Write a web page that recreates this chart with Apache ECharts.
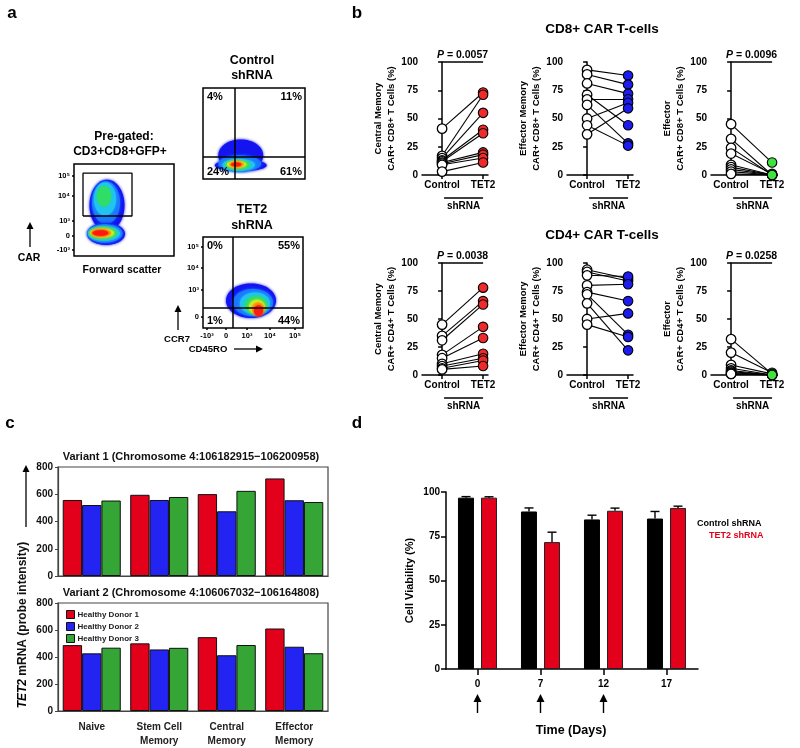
<!DOCTYPE html>
<html><head><meta charset="utf-8">
<script src="https://cdn.jsdelivr.net/npm/echarts@6/dist/echarts.min.js"></script>
<style>html,body{margin:0;padding:0;background:#fff}#c{width:800px;height:748px}</style>
</head><body><div id="c"></div>
<script>
const FONT = '"Liberation Sans", Arial, Helvetica, sans-serif';
// ================= DATA =================
// ---- Panel a (flow cytometry) ----
const preGateTickVals = [7, 22, 38, 65, 87];
const preGateTickLabels = ['-10³', '0', '10³', '10⁴', '10⁵'];
const tet2YTickVals = [12, 42, 66, 89];
const tet2YTickLabels = ['0', '10³', '10⁴', '10⁵'];
const tet2XTickVals = [4, 23, 44, 67, 92];
const tet2XTickLabels = ['-10³', '0', '10³', '10⁴', '10⁵'];
const preGate = [[9, 43.5], [58, 43.5], [58, 90], [9, 90], [9, 43.5]];
// density contour layers: [centerX, centerY, radiusX, radiusY, level]
const preGatedDensity = [
  [33, 55, 17.5, 28, 0], [32, 58, 14, 23, 1], [31, 62, 11, 18, 2], [30, 65, 7, 11, 3],
  [32, 24, 19, 12, 0], [31, 24.5, 17.5, 10, 1], [30, 24.5, 16, 8, 2], [29, 25, 14, 6.5, 3],
  [28, 25, 12, 5, 4], [27, 25, 10, 4, 5], [26.5, 25, 8, 3, 6]
];
const controlDensity = [
  [37, 26, 22, 17.5, 0], [37, 15, 25.5, 6.5, 0], [36, 17, 21, 9, 1], [35, 15.5, 16, 6.5, 2],
  [34, 15.5, 12.5, 5, 3], [33, 16, 9.5, 3.8, 4], [33, 16, 7, 3, 5], [32.5, 16, 5, 2.2, 6]
];
const tet2Density = [
  [48, 30, 25, 19, 0], [50, 28, 20, 15, 1], [52, 27, 15, 12, 2], [53, 25, 11, 10, 3],
  [54, 23, 8, 8, 4], [55, 21, 6, 7, 5], [55.5, 19, 4.5, 6, 6]
];
const controlQuadGate = [31.4, 24.2];
const tet2QuadGate = [30, 22];
const controlQuadPct = ['4%', '11%', '24%', '61%'];
const tet2QuadPct = ['0%', '55%', '1%', '44%'];

// ---- Panel b (paired plots) ----
const pairCats = ['Control', 'TET2'];
const cd8CmControl = [41, 17, 15, 13, 12, 11, 10, 9, 3];
const cd8CmTet2 = [73, 71, 55, 40, 37, 20, 18, 15, 11];
const cd8EmControl = [93, 89, 81, 71, 67, 62, 50, 44, 36];
const cd8EmTet2 = [88, 80, 72, 44, 67, 28, 64, 26, 59];
const cd8EffControl = [45, 32, 24, 19, 9, 7, 5, 3, 1];
const cd8EffTet2 = [11, 0, 0, 1, 0, 0, 0, 0, 0];
const cd4CmControl = [45, 35, 31, 18, 15, 10, 8, 6, 5];
const cd4CmTet2 = [78, 66, 63, 43, 33, 19, 15, 13, 8];
const cd4EmControl = [94, 92, 89, 80, 74, 72, 64, 50, 45];
const cd4EmTet2 = [86, 84, 88, 81, 66, 36, 22, 55, 34];
const cd4EffControl = [32, 20, 9, 6, 4, 3, 2, 1, 1];
const cd4EffTet2 = [1, 2, 1, 0, 0, 0, 0, 0, 0];
const pairYTitles = [
  'Central Memory\nCAR+ CD8+ T Cells (%)', 'Effector Memory\nCAR+ CD8+ T Cells (%)', 'Effector\nCAR+ CD8+ T Cells (%)',
  'Central Memory\nCAR+ CD4+ T Cells (%)', 'Effector Memory\nCAR+ CD4+ T Cells (%)', 'Effector\nCAR+ CD4+ T Cells (%)'
];
const pValues = ['0.0057', null, '0.0096', '0.0038', null, '0.0258'];

// ---- Panel c (bars) ----
const cellTypes = ['Naive', 'Stem Cell\nMemory', 'Central\nMemory', 'Effector\nMemory'];
const donors = ['Healthy Donor 1', 'Healthy Donor 2', 'Healthy Donor 3'];
const variant1Donor1 = [558, 596, 601, 716];
const variant1Donor2 = [521, 558, 475, 556];
const variant1Donor3 = [554, 580, 625, 543];
const variant2Donor1 = [488, 501, 547, 611];
const variant2Donor2 = [427, 456, 413, 476];
const variant2Donor3 = [469, 468, 489, 428];

// ---- Panel d (viability) ----
const days = ['0', '7', '12', '17'];
const controlViability = [96.8, 89, 84.5, 85];
const controlViabilityErr = [0.6, 2, 2.4, 4];
const tet2Viability = [96.8, 71.7, 89.4, 91];
const tet2ViabilityErr = [0.5, 5.6, 1.5, 1];
const arrowDays = ['0', '7', '12'];

// ================= STYLE =================
const flowPalette = ['#1414f0', '#1a78ff', '#20c4f0', '#2ede66', '#cdee22', '#ff9a12', '#ff1a10'];
const donorColors = ['#e2001a', '#2323f2', '#35a535'];
const RED = '#e2001a';

const chart = echarts.init(document.getElementById('c'), null, {renderer: 'canvas'});

const grids = [
  {left: 74, top: 164, width: 100, height: 92},
  {left: 203, top: 88, width: 102, height: 91},
  {left: 203, top: 237, width: 100, height: 91},
  {left: 422, top: 62, width: 66, height: 113},
  {left: 567, top: 62, width: 66, height: 113},
  {left: 711, top: 62, width: 66, height: 113},
  {left: 422, top: 263, width: 66, height: 112},
  {left: 567, top: 263, width: 66, height: 112},
  {left: 711, top: 263, width: 66, height: 112},
  {left: 58, top: 467, width: 270, height: 109},
  {left: 58, top: 603, width: 270, height: 109},
  {left: 446, top: 492, width: 252, height: 177}
];
grids.forEach((g, i) => {
  if (i <= 2) Object.assign(g, {show: true, borderColor: '#000', borderWidth: 1.5});
  else if (i === 9 || i === 10) Object.assign(g, {show: true, borderColor: '#444', borderWidth: 1.2});
});

const lbl = (extra) => Object.assign({fontFamily: FONT, fontWeight: 'bold', color: '#000', fontSize: 10}, extra || {});
function pick(vals, labels) {
  return v => { let bi = 0, bd = 1e9; vals.forEach((x, i) => { const d = Math.abs(x - v); if (d < bd) { bd = d; bi = i; } }); return labels[bi]; };
}
function flowAxis(g, vals, labels) {
  const o = {type: 'value', gridIndex: g, min: 0, max: 100, axisLine: {show: false}, splitLine: {show: false}};
  if (vals) {
    o.axisTick = {show: true, customValues: vals, length: 2, lineStyle: {color: '#000', width: 1.5}};
    o.axisLabel = lbl({show: true, customValues: vals, formatter: pick(vals, labels), fontSize: 7.5, margin: 4});
  } else {
    o.axisTick = {show: false}; o.axisLabel = {show: false};
  }
  return o;
}
const xAxes = [], yAxes = [];
xAxes.push(flowAxis(0)); yAxes.push(flowAxis(0, preGateTickVals, preGateTickLabels));
xAxes.push(flowAxis(1)); yAxes.push(flowAxis(1));
xAxes.push(flowAxis(2, tet2XTickVals, tet2XTickLabels)); yAxes.push(flowAxis(2, tet2YTickVals, tet2YTickLabels));

for (let k = 0; k < 6; k++) {
  const g = 3 + k;
  xAxes.push({type: 'value', gridIndex: g, min: -0.49, max: 1.12,
    axisLine: {show: true, onZero: false, lineStyle: {color: '#000', width: 1.5}},
    axisTick: {show: true, customValues: [0, 1], length: 4, lineStyle: {color: '#000', width: 1.5}},
    axisLabel: lbl({customValues: [0, 1], formatter: v => pairCats[Math.round(v)], fontSize: 10, margin: 5}),
    splitLine: {show: false}});
  yAxes.push({type: 'value', gridIndex: g, min: 0, max: 100, interval: 25,
    axisLine: {show: true, lineStyle: {color: '#000', width: 1.5}},
    axisTick: {show: true, length: 4, lineStyle: {color: '#000', width: 1.5}},
    axisLabel: lbl({fontSize: 10, margin: 4}), splitLine: {show: false},
    name: pairYTitles[k], nameLocation: 'middle', nameRotate: 90, nameGap: 24,
    nameTextStyle: lbl({fontSize: 9.5, lineHeight: 12.5})});
}
[9, 10].forEach(g => {
  xAxes.push({type: 'category', gridIndex: g, data: cellTypes,
    axisLine: {show: true, lineStyle: {color: '#444', width: 1.2}}, axisTick: {show: false},
    axisLabel: g === 10 ? lbl({interval: 0, fontSize: 10, lineHeight: 14, margin: 9, color: '#222'}) : {show: false}});
  yAxes.push({type: 'value', gridIndex: g, min: 0, max: 800, interval: 200,
    axisLine: {show: true, lineStyle: {color: '#444', width: 1.2}},
    axisTick: {show: true, length: 3, lineStyle: {color: '#444'}},
    axisLabel: lbl({fontSize: 10, margin: 5, color: '#111'}), splitLine: {show: false}});
});
xAxes.push({type: 'category', gridIndex: 11, data: days, boundaryGap: true,
  axisLine: {show: true, onZero: false, lineStyle: {color: '#000', width: 1.5}},
  axisTick: {show: true, alignWithLabel: true, length: 6, lineStyle: {color: '#000', width: 1.5}},
  axisLabel: lbl({fontSize: 10, margin: 10})});
yAxes.push({type: 'value', gridIndex: 11, min: 0, max: 100, interval: 25,
  axisLine: {show: true, lineStyle: {color: '#000', width: 1.5}},
  axisTick: {show: true, length: 5, lineStyle: {color: '#000', width: 1.5}},
  axisLabel: lbl({fontSize: 10, margin: 6}), splitLine: {show: false},
  name: 'Cell Viability (%)', nameLocation: 'middle', nameRotate: 90, nameGap: 31,
  nameTextStyle: lbl({fontSize: 11})});

// ================= SERIES =================
const series = [];
function densityItem(params, api) {
  const cx = api.value(0), cy = api.value(1), rx = api.value(2), ry = api.value(3), lv = api.value(4);
  const pts = [];
  for (let t = 0; t < 64; t++) {
    const a = t / 64 * Math.PI * 2;
    pts.push(api.coord([cx + rx * Math.cos(a), cy + ry * Math.sin(a)]));
  }
  const c = flowPalette[lv];
  return {type: 'polygon', shape: {points: pts}, style: {fill: c, shadowBlur: 3, shadowColor: c}};
}
[[0, preGatedDensity], [1, controlDensity], [2, tet2Density]].forEach(([g, d]) => {
  series.push({type: 'custom', xAxisIndex: g, yAxisIndex: g, data: d, renderItem: densityItem,
    clip: true, encode: {x: 0, y: 1}, silent: true, z: 2});
});
series.push({type: 'line', xAxisIndex: 0, yAxisIndex: 0, data: preGate, symbol: 'none',
  lineStyle: {color: '#000', width: 1.3}, z: 5, silent: true});
[[1, controlQuadGate], [2, tet2QuadGate]].forEach(([g, q]) => {
  series.push({type: 'lines', coordinateSystem: 'cartesian2d', xAxisIndex: g, yAxisIndex: g,
    data: [{coords: [[q[0], 0], [q[0], 100]]}, {coords: [[0, q[1]], [100, q[1]]]}],
    lineStyle: {color: '#000', width: 1.5, opacity: 1}, z: 5, silent: true});
});

const pairSets = [
  [cd8CmControl, cd8CmTet2, '#ee2a2a'], [cd8EmControl, cd8EmTet2, '#1c1cee'], [cd8EffControl, cd8EffTet2, '#3fe23f'],
  [cd4CmControl, cd4CmTet2, '#ee2a2a'], [cd4EmControl, cd4EmTet2, '#1c1cee'], [cd4EffControl, cd4EffTet2, '#3fe23f']
];
pairSets.forEach(([c, t, col], k) => {
  const g = 3 + k;
  series.push({type: 'lines', coordinateSystem: 'cartesian2d', xAxisIndex: g, yAxisIndex: g,
    data: c.map((v, i) => ({coords: [[0, v], [1, t[i]]]})),
    lineStyle: {color: '#000', width: 1.1, opacity: 1}, z: 3, silent: true});
  series.push({type: 'scatter', xAxisIndex: g, yAxisIndex: g, data: c.map(v => [0, v]),
    symbol: 'circle', symbolSize: 9.5, itemStyle: {color: '#fff', borderColor: '#000', borderWidth: 1.3, opacity: 1}, z: 4, clip: false});
  series.push({type: 'scatter', xAxisIndex: g, yAxisIndex: g, data: t.map(v => [1, v]),
    symbol: 'circle', symbolSize: 9.5, itemStyle: {color: col, borderColor: '#000', borderWidth: 1.1, opacity: 1}, z: 4, clip: false});
});

[[9, [variant1Donor1, variant1Donor2, variant1Donor3]], [10, [variant2Donor1, variant2Donor2, variant2Donor3]]].forEach(([g, sets]) => {
  sets.forEach((vals, i) => {
    series.push({type: 'bar', name: donors[i], xAxisIndex: g, yAxisIndex: g, data: vals,
      barGap: '0%', barCategoryGap: '14%',
      itemStyle: {color: donorColors[i], borderColor: '#111', borderWidth: 1}});
  });
});

series.push({type: 'bar', name: 'Control shRNA', xAxisIndex: 11, yAxisIndex: 11, data: controlViability,
  barWidth: 16, barGap: '44%', itemStyle: {color: '#000', borderColor: '#000', borderWidth: 1}, z: 2});
series.push({type: 'bar', name: 'TET2 shRNA', xAxisIndex: 11, yAxisIndex: 11, data: tet2Viability,
  barWidth: 16, barGap: '44%', itemStyle: {color: RED, borderColor: '#222', borderWidth: 1}, z: 2});
function errItem(off) {
  return (params, api) => {
    const x0 = api.value(0), v = api.value(1), e = api.value(2);
    const p = api.coord([x0, v]), q = api.coord([x0, v + e]);
    const x = p[0] + off;
    return {type: 'group', children: [
      {type: 'line', shape: {x1: x, y1: p[1], x2: x, y2: q[1]}, style: {stroke: '#000', lineWidth: 1.4}},
      {type: 'line', shape: {x1: x - 4.5, y1: q[1], x2: x + 4.5, y2: q[1]}, style: {stroke: '#000', lineWidth: 1.4}}
    ]};
  };
}
series.push({type: 'custom', xAxisIndex: 11, yAxisIndex: 11, renderItem: errItem(-11.5), z: 5,
  data: controlViability.map((v, i) => [i, v, controlViabilityErr[i]]), encode: {x: 0, y: 1}});
series.push({type: 'custom', xAxisIndex: 11, yAxisIndex: 11, renderItem: errItem(11.5), z: 5,
  data: tet2Viability.map((v, i) => [i, v, tet2ViabilityErr[i]]), encode: {x: 0, y: 1}});

chart.setOption({
  animation: false,
  backgroundColor: '#fff',
  textStyle: {fontFamily: FONT},
  grid: grids, xAxis: xAxes, yAxis: yAxes, series: series,
  legend: {data: donors, left: 61, top: 605, orient: 'vertical', itemWidth: 8, itemHeight: 8, itemGap: 3,
    icon: 'rect', itemStyle: {borderColor: '#111', borderWidth: 1},
    textStyle: {fontFamily: FONT, fontWeight: 'bold', fontSize: 8, color: '#222', padding: [0, 0, 0, -2]}, selectedMode: false}
});

// ================= ANNOTATIONS =================
function txt(x, y, text, size, o) {
  o = o || {};
  const st = {text: text, fontSize: size, fontWeight: o.weight || 'bold', fontFamily: FONT, fill: o.color || '#000',
    align: o.align || 'center', verticalAlign: 'middle'};
  if (o.rich) st.rich = o.rich;
  if (o.lh) st.lineHeight = o.lh;
  return {type: 'text', x: x, y: y, rotation: o.rot || 0, z: 100, style: st};
}
function arrow(x1, y1, x2, y2, w, h, hw) {
  w = w || 1.3; h = h || 7; hw = hw || 3.5;
  const a = Math.atan2(y2 - y1, x2 - x1);
  const bx = x2 - h * Math.cos(a), by = y2 - h * Math.sin(a);
  const px = -Math.sin(a), py = Math.cos(a);
  return [
    {type: 'line', z: 100, shape: {x1: x1, y1: y1, x2: bx, y2: by}, style: {stroke: '#000', lineWidth: w}},
    {type: 'polygon', z: 100, shape: {points: [[x2, y2], [bx + px * hw, by + py * hw], [bx - px * hw, by - py * hw]]}, style: {fill: '#000'}}
  ];
}
function hline(x1, x2, y, w) {
  return {type: 'line', z: 100, shape: {x1: x1, y1: y, x2: x2, y2: y}, style: {stroke: '#000', lineWidth: w || 1.3}};
}
const italicRich = s => ({i: {fontStyle: 'italic', fontWeight: 'bold', fontSize: s, fontFamily: FONT, fill: '#000'}});

let els = [];
els.push(txt(12, 13, 'a', 17), txt(357, 13, 'b', 17), txt(10, 423, 'c', 17), txt(357, 423, 'd', 17));
// panel a
els.push(txt(124, 137, 'Pre-gated:', 12), txt(120, 152, 'CD3+CD8+GFP+', 12));
els.push(txt(252, 61, 'Control', 12.5), txt(252, 76, 'shRNA', 12.5));
els.push(txt(252, 210, 'TET2', 12.5), txt(252, 226, 'shRNA', 12.5));
els.push(txt(122, 270, 'Forward scatter', 10.5));
els.push(txt(29, 258, 'CAR', 10.5));
els = els.concat(arrow(30, 247, 30, 222));
els.push(txt(177, 339, 'CCR7', 9.5));
els = els.concat(arrow(178, 330, 178, 305));
els.push(txt(208, 349, 'CD45RO', 9.5));
els = els.concat(arrow(234, 349, 263, 349));
[[1, controlQuadPct], [2, tet2QuadPct]].forEach(([g, pct]) => {
  const tl = chart.convertToPixel({gridIndex: g}, [0, 100]);
  const br = chart.convertToPixel({gridIndex: g}, [100, 0]);
  els.push(txt(tl[0] + 4, tl[1] + 9, pct[0], 11, {align: 'left'}));
  els.push(txt(br[0] - 3, tl[1] + 9, pct[1], 11, {align: 'right'}));
  els.push(txt(tl[0] + 4, br[1] - 7, pct[2], 11, {align: 'left'}));
  els.push(txt(br[0] - 3, br[1] - 7, pct[3], 11, {align: 'right'}));
});
// panel b
els.push(txt(602, 29, 'CD8+ CAR T-cells', 13.5), txt(602, 235, 'CD4+ CAR T-cells', 13.5));
for (let k = 0; k < 6; k++) {
  const g = 3 + k;
  const a = chart.convertToPixel({gridIndex: g}, [0, 100]);
  const b = chart.convertToPixel({gridIndex: g}, [1, 0]);
  els.push(hline(a[0] + 2, b[0], b[1] + 23, 1.3));
  els.push(txt((a[0] + b[0]) / 2 + 1, b[1] + 31, 'shRNA', 10));
  if (pValues[k]) {
    els.push(hline(a[0], b[0], a[1], 1.3));
    els.push(txt((a[0] + b[0]) / 2, a[1] - 7, '{i|P} = ' + pValues[k], 10.5, {rich: italicRich(10.5)}));
  }
}
// panel c
els.push(txt(191, 457, 'Variant 1 (Chromosome 4:106182915\u2212106200958)', 11, {color: '#111'}));
els.push(txt(191, 593, 'Variant 2 (Chromosome 4:106067032\u2212106164808)', 11, {color: '#111'}));
els.push(txt(23, 625, '{i|TET2} mRNA (probe intensity)', 12, {rot: Math.PI / 2, rich: italicRich(12), color: '#111'}));
els = els.concat(arrow(26, 527, 26, 465));
// panel d
els.push(txt(571, 731, 'Time (Days)', 12.5));
els.push(txt(697, 524, 'Control shRNA', 9, {align: 'left'}));
els.push(txt(709, 536, 'TET2 shRNA', 9, {align: 'left', color: RED}));
arrowDays.forEach(d => {
  const p = chart.convertToPixel({gridIndex: 11}, [days.indexOf(d), 0]);
  els = els.concat(arrow(p[0], 713, p[0], 694, 1.4, 8, 4));
});
chart.setOption({graphic: {elements: els}});
</script></body></html>
